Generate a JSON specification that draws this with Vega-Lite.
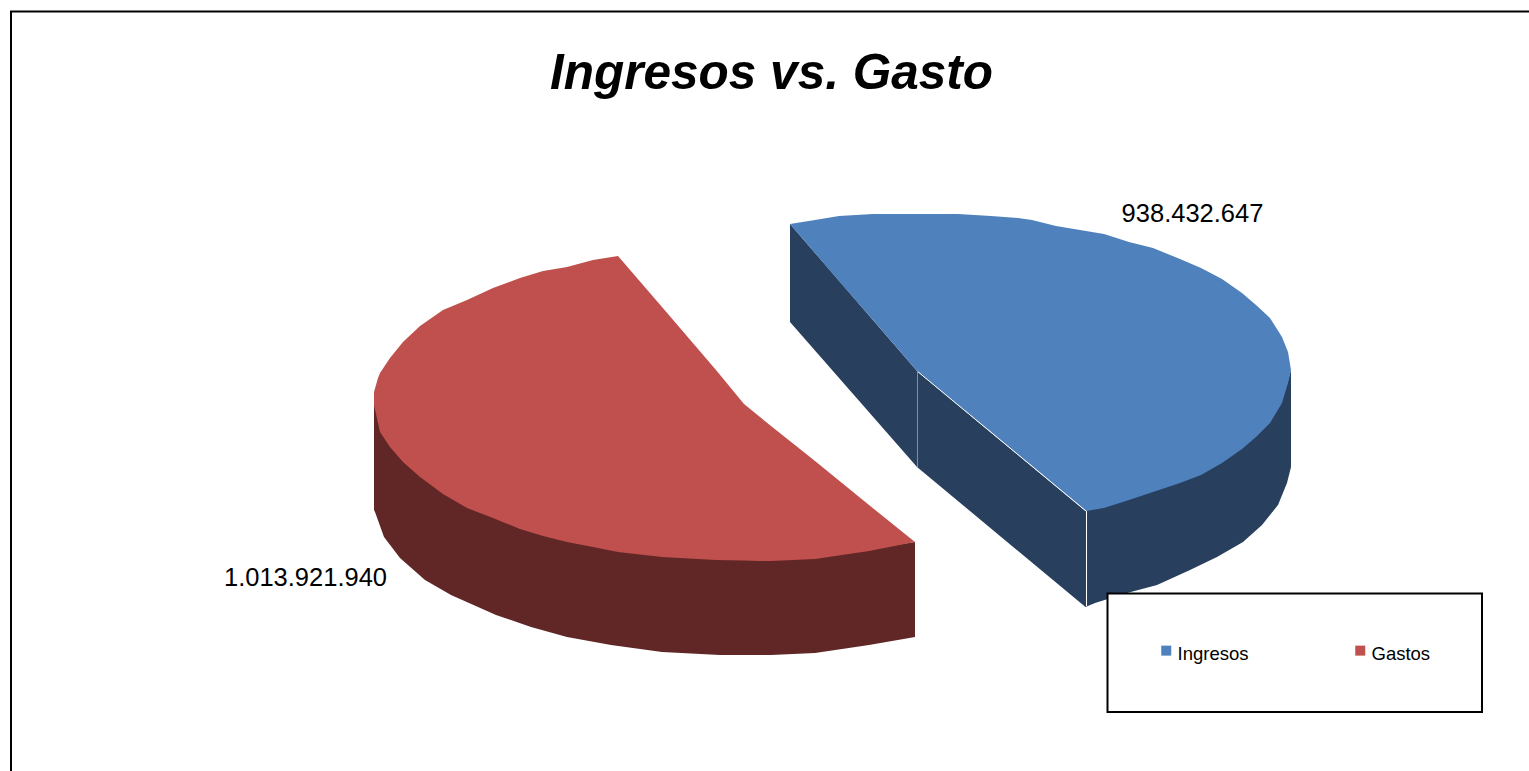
{
"$schema":"https://vega.github.io/schema/vega-lite/v6.json",
"width":1529,"height":771,"autosize":"none","padding":0,"background":"white",
"config":{"view":{"stroke":null},"font":"Liberation Sans"},
"title":{"text":"Ingresos vs. Gasto","font":"Liberation Sans","fontSize":49.5,"fontWeight":"bold","fontStyle":"italic","color":"black","anchor":"middle","frame":"group","baseline":"alphabetic","offset":-138,"dx":7},
"datasets":{
"tops":[
{"serie":"Ingresos","x":790,"y":224,"y2":224},{"serie":"Ingresos","x":815,"y":220,"y2":253},{"serie":"Ingresos","x":839,"y":216,"y2":281},{"serie":"Ingresos","x":873,"y":214,"y2":320},{"serie":"Ingresos","x":917,"y":214,"y2":371},{"serie":"Ingresos","x":958,"y":214,"y2":405},{"serie":"Ingresos","x":991,"y":216,"y2":432},{"serie":"Ingresos","x":1018,"y":218,"y2":455},{"serie":"Ingresos","x":1032,"y":220,"y2":466},{"serie":"Ingresos","x":1056,"y":226,"y2":486},{"serie":"Ingresos","x":1086,"y":231,"y2":511},{"serie":"Ingresos","x":1104,"y":234,"y2":508},{"serie":"Ingresos","x":1129,"y":242,"y2":500},{"serie":"Ingresos","x":1153,"y":248,"y2":492},{"serie":"Ingresos","x":1180,"y":259,"y2":483},{"serie":"Ingresos","x":1201,"y":268,"y2":475},{"serie":"Ingresos","x":1222,"y":279,"y2":463},{"serie":"Ingresos","x":1242,"y":293,"y2":449},{"serie":"Ingresos","x":1256,"y":305,"y2":437},{"serie":"Ingresos","x":1270,"y":318,"y2":423},{"serie":"Ingresos","x":1282,"y":337,"y2":403},{"serie":"Ingresos","x":1288,"y":352,"y2":383},{"serie":"Ingresos","x":1291,"y":370,"y2":370},
{"serie":"Gastos","x":374,"y":392,"y2":405},{"serie":"Gastos","x":378,"y":378,"y2":423},{"serie":"Gastos","x":380,"y":373,"y2":432},{"serie":"Gastos","x":390,"y":358,"y2":447},{"serie":"Gastos","x":403,"y":342,"y2":462},{"serie":"Gastos","x":420,"y":326,"y2":477},{"serie":"Gastos","x":443,"y":310,"y2":494},{"serie":"Gastos","x":467,"y":300,"y2":508},{"serie":"Gastos","x":493,"y":288,"y2":518},{"serie":"Gastos","x":520,"y":278,"y2":529},{"serie":"Gastos","x":543,"y":271,"y2":536},{"serie":"Gastos","x":567,"y":267,"y2":542},{"serie":"Gastos","x":593,"y":260,"y2":547},{"serie":"Gastos","x":618,"y":256,"y2":552},{"serie":"Gastos","x":662,"y":307,"y2":557},{"serie":"Gastos","x":716,"y":370,"y2":560},{"serie":"Gastos","x":744,"y":404,"y2":560.5},{"serie":"Gastos","x":760,"y":417,"y2":561},{"serie":"Gastos","x":771,"y":426,"y2":561},{"serie":"Gastos","x":815,"y":461,"y2":559},{"serie":"Gastos","x":869,"y":505,"y2":551},{"serie":"Gastos","x":915,"y":542,"y2":542}
],
"blueSide":[
{"x":790,"y":224,"y2":322},{"x":917,"y":371,"y2":467},{"x":1085.5,"y":511,"y2":607},{"x":1095,"y":508,"y2":603},{"x":1127,"y":499,"y2":593},{"x":1157,"y":489,"y2":585},{"x":1190,"y":477,"y2":570},{"x":1217,"y":464,"y2":557},{"x":1243,"y":446,"y2":542},{"x":1262,"y":429,"y2":525},{"x":1278,"y":408,"y2":505},{"x":1287,"y":384,"y2":483},{"x":1291,"y":370,"y2":467}
],
"redSide":[
{"x":374,"y":400,"y2":510},{"x":375,"y":403,"y2":512},{"x":384,"y":433,"y2":537},{"x":400,"y":455,"y2":558},{"x":425,"y":476,"y2":580},{"x":451,"y":494,"y2":595},{"x":496,"y":515,"y2":615},{"x":531,"y":528,"y2":627},{"x":567,"y":539,"y2":637},{"x":611,"y":549,"y2":645},{"x":662,"y":555,"y2":652},{"x":720,"y":558,"y2":655},{"x":771,"y":559,"y2":655},{"x":815,"y":557,"y2":653},{"x":869,"y":549,"y2":645},{"x":915,"y":542,"y2":637}
],
"edges":[
{"x":917,"y":371,"x2":1086,"y2":511},{"x":1086.5,"y":511,"x2":1086.5,"y2":606}
],
"seam":[{"x":917.5,"y":371,"x2":917.5,"y2":467}],
"labels":[{"x":1192.5,"y":214,"text":"938.432.647"},{"x":305.5,"y":578,"text":"1.013.921.940"}],
"frame":[{"x":11,"y":11.5,"x2":1600,"y2":900}],
"legendBox":[{"x":1107.5,"y":593.5,"x2":1482,"y2":712}]
},
"encoding":{
"x":{"field":"x","type":"quantitative","scale":{"domain":[0,1529],"nice":false,"zero":false},"axis":null},
"y":{"field":"y","type":"quantitative","scale":{"domain":[771,0],"nice":false,"zero":false},"axis":null,"stack":null}
},
"layer":[
{"data":{"name":"frame"},"mark":{"type":"rect","fillOpacity":0,"stroke":"black","strokeWidth":2,"clip":true},"encoding":{"x2":{"field":"x2"},"y2":{"field":"y2"}}},
{"data":{"name":"blueSide"},"mark":{"type":"area","color":"#283F5E"},"encoding":{"y2":{"field":"y2"}}},
{"data":{"name":"redSide"},"mark":{"type":"area","color":"#612727"},"encoding":{"y2":{"field":"y2"}}},
{"data":{"name":"tops"},"mark":{"type":"area"},"encoding":{"y2":{"field":"y2"},"color":{"field":"serie","type":"nominal","scale":{"domain":["Ingresos","Gastos"],"range":["#4F81BD","#C0504D"]},"legend":{"title":null,"orient":"none","legendX":1157,"legendY":641,"direction":"horizontal","columns":2,"columnPadding":102,"symbolType":"square","symbolSize":100,"symbolStrokeWidth":0,"symbolOpacity":1,"labelOffset":2,"labelFont":"Liberation Sans","labelFontSize":18.5,"labelColor":"black","padding":0,"encode":{"labels":{"update":{"dy":{"value":3.5}}}}}}}},
{"data":{"name":"edges"},"mark":{"type":"rule","color":"white","strokeWidth":1},"encoding":{"x2":{"field":"x2"},"y2":{"field":"y2"}}},
{"data":{"name":"seam"},"mark":{"type":"rule","color":"#7F8FA3","strokeWidth":1},"encoding":{"x2":{"field":"x2"},"y2":{"field":"y2"}}},
{"data":{"name":"legendBox"},"mark":{"type":"rect","fill":"white","stroke":"black","strokeWidth":2},"encoding":{"x2":{"field":"x2"},"y2":{"field":"y2"}}},
{"data":{"name":"labels"},"mark":{"type":"text","font":"Liberation Sans","fontSize":25.5,"color":"black","align":"center","baseline":"middle"},"encoding":{"text":{"field":"text"}}}
]
}
